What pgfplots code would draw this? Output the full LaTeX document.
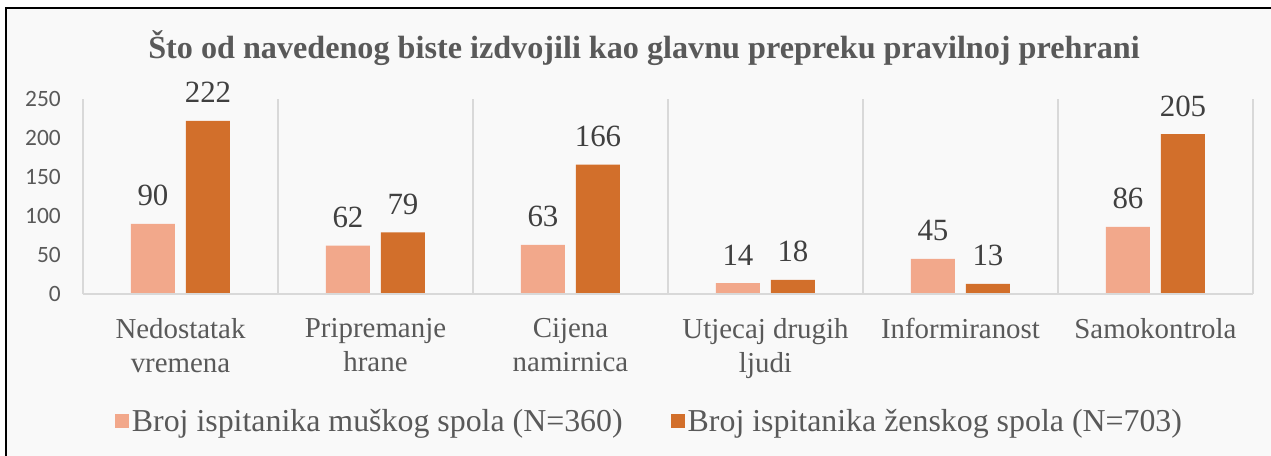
\documentclass[border=0pt]{standalone}
\usepackage{fontspec}
\setmainfont{Liberation Serif}
\newfontfamily\calibri{Carlito}
\usepackage{pgfplots}
\pgfplotsset{compat=1.18}
\definecolor{bg}{HTML}{F9F9F9}
\definecolor{txt}{HTML}{595959}
\definecolor{lbl}{HTML}{404040}
\definecolor{male}{HTML}{F2A88B}
\definecolor{female}{HTML}{D26F2B}
\definecolor{gridc}{HTML}{D9D9D9}
\begin{document}
\begin{tikzpicture}
\useasboundingbox (0,0) rectangle (1271bp,-456bp);
\fill[bg] (6bp,-8bp) rectangle (1271bp,-456bp);
\draw[black, line width=2.5bp] (6bp,-456bp) -- (6bp,-8bp) -- (1271bp,-8bp);
\node[font=\bfseries\fontsize{32.3}{38}\selectfont, text=txt] at (644bp,-48bp) {Što od navedenog biste izdvojili kao glavnu prepreku pravilnoj prehrani};
\begin{axis}[
 at={(83bp,-294bp)}, anchor=south west,
 width=1170bp, height=195bp, scale only axis,
 /pgf/number format/assume math mode=true,
 ybar=11bp, bar width=44bp,
 xmin=-0.5, xmax=5.5, ymin=0, ymax=250,
 xtick={0,...,5},
 xticklabels={{Nedostatak\\vremena},{Pripremanje\\hrane},{Cijena\\namirnica},{Utjecaj drugih\\ljudi},{Informiranost},{Samokontrola}},
 minor xtick={-0.5,0.5,...,5.5},
 xminorgrids, minor grid style={gridc, line width=1.5bp},
 ytick={0,50,...,250},
 tick style={draw=none}, major tick length=0pt, minor tick length=0pt,
 axis line style={draw=none},
 xticklabel style={font=\fontsize{29}{34}\selectfont, text=txt, align=center, anchor=north, inner sep=0pt, yshift=-24bp},
 yticklabel style={font=\calibri\fontsize{23.5}{28}\selectfont, text=txt, anchor=east, inner sep=0pt, xshift=-22bp},
 nodes near coords,
 every node near coord/.append style={font=\fontsize{31}{36}\selectfont, text=lbl, anchor=base, yshift=18bp, inner sep=0pt},
 legend style={at={(0.4846,-0.651)}, anchor=center, draw=none, fill=none, font=\fontsize{32}{36}\selectfont, text=txt, legend columns=2, nodes={inner sep=3bp}, /tikz/every even column/.append style={column sep=45bp}},
 legend image code/.code={\fill[#1,draw=none] (0bp,-7bp) rectangle (14bp,7bp);},
]
\addplot[fill=male, draw=none] coordinates {(0,90) (1,62) (2,63) (3,14) (4,45) (5,86)};
\addlegendentry{Broj ispitanika muškog spola (N=360)}
\addplot[fill=female, draw=none] coordinates {(0,222) (1,79) (2,166) (3,18) (4,13) (5,205)};
\addlegendentry{Broj ispitanika ženskog spola (N=703)}
\draw[gridc, line width=1.5bp] (axis cs:-0.5,0) -- (axis cs:5.5,0);
\end{axis}
\end{tikzpicture}
\end{document}
